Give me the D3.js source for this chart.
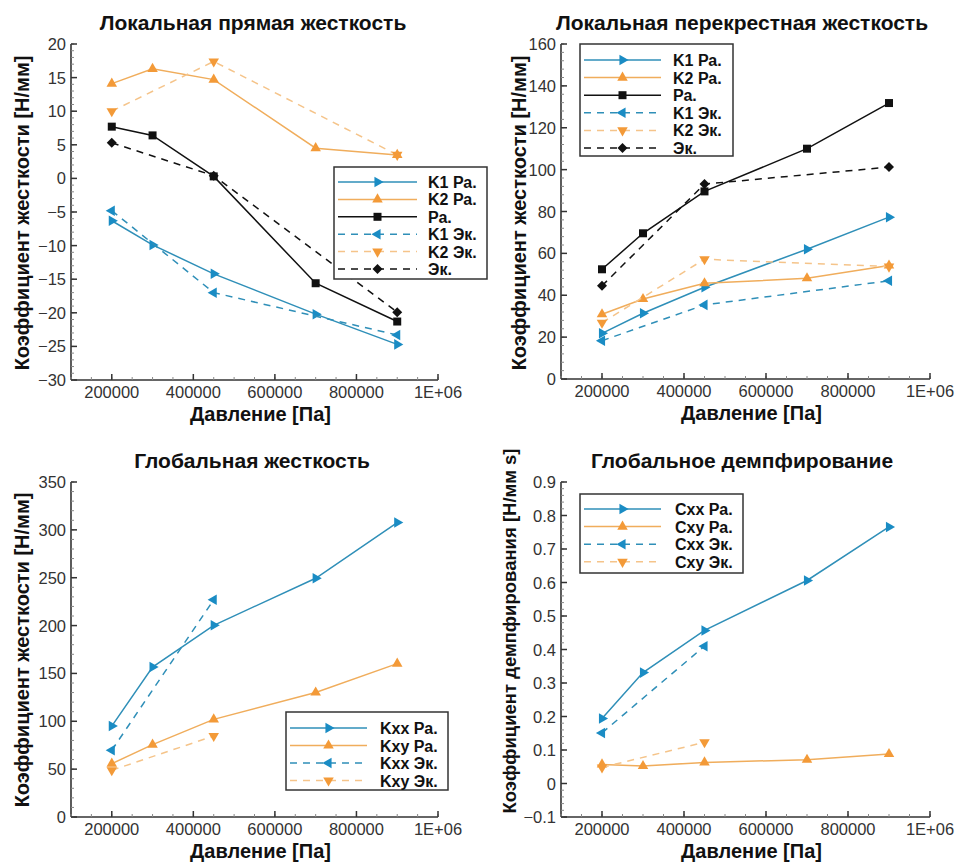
<!DOCTYPE html>
<html>
<head>
<meta charset="utf-8">
<script src="https://cdn.jsdelivr.net/npm/d3@7"></script>
<style>
  body { margin: 0; background: #fff; }
  svg { display: block; font-family: "Liberation Sans", Arial, Helvetica, sans-serif; }
  .tick-label { fill: #333; font-size: 16.5px; }
  .title { font-weight: bold; font-size: 21px; fill: #111; }
  .axis-title { font-weight: bold; font-size: 20px; fill: #111; }
  .legend-text { font-weight: bold; font-size: 16px; fill: #111; }
</style>
</head>
<body>
<div id="chart"></div>
<script>
// pressures (Pa)
var pressureRa = [200000, 300000, 450000, 700000, 900000];
var pressureEk3 = [200000, 450000, 900000];
var pressureEk2 = [200000, 450000];
var xTicks = [200000, 400000, 600000, 800000, 1000000];
var xTickLabels = ["200000", "400000", "600000", "800000", "1E+06"];

// local direct stiffness [N/mm]
var directK1Ra = [-6.3, -9.9, -14.2, -20.2, -24.7];
var directK2Ra = [14.1, 16.3, 14.7, 4.5, 3.5];
var directRa   = [7.7, 6.4, 0.3, -15.6, -21.3];
var directK1Ek = [-4.8, -17.0, -23.3];
var directK2Ek = [10.0, 17.4, 3.5];
var directEk   = [5.3, 0.4, -19.9];

// local cross stiffness [N/mm]
var crossK1Ra = [21.8, 31.4, 43.8, 62.0, 77.3];
var crossK2Ra = [30.9, 38.2, 45.7, 48.1, 54.2];
var crossRa   = [52.4, 69.6, 89.6, 110.0, 131.8];
var crossK1Ek = [18.3, 35.4, 46.9];
var crossK2Ek = [26.9, 57.2, 53.7];
var crossEk   = [44.5, 93.1, 101.2];

// global stiffness [N/mm]
var globKxxRa = [95, 156.7, 200.3, 249.4, 307.6];
var globKxyRa = [55.7, 75.6, 102, 130, 160.2];
var globKxxEk = [69.7, 227];
var globKxyEk = [48.8, 84.6];

// global damping [N/mm s]
var dampCxxRa = [0.194, 0.331, 0.457, 0.606, 0.766];
var dampCxyRa = [0.057, 0.052, 0.063, 0.071, 0.088];
var dampCxxEk = [0.151, 0.41];
var dampCxyEk = [0.048, 0.123];

var blue = "#2f8fb8", blueMark = "#1a8cc4";
var orange = "#f0ad5c", orangeMark = "#f39a38", orangeDash = "#f5c48a";
var black = "#111";

var styles = {
  k1ra: {line: blue, mark: blueMark, dash: null, sym: "tri", rot: 90},
  k2ra: {line: orange, mark: orangeMark, dash: null, sym: "tri", rot: 0},
  ra:   {line: black, mark: black, dash: null, sym: "sq", rot: 0},
  k1ek: {line: blue, mark: blueMark, dash: "7,6", sym: "tri", rot: -90},
  k2ek: {line: orangeDash, mark: orangeMark, dash: "7,6", sym: "tri", rot: 180},
  ek:   {line: black, mark: black, dash: "7,6", sym: "dia", rot: 0}
};

function ser(name, xs, ys, st) { return {name: name, xs: xs, ys: ys, st: styles[st]}; }

var panels = [
  {title: "Локальная прямая жесткость", ylab: "Коэффициент жесткости [Н/мм]",
   box: {l: 71, t: 44, r: 438, b: 380}, yDom: [-30, 20], yStep: 5, fmt: d3.format("d"),
   titleX: 253, titleY: 30, ylabX: 22, ylabY: 213, ylabSize: 20,
   legend: {x: 334, y: 167, w: 153, h: 112, lx1: 338, lx2: 417, tx: 428, row0: 182, dy: 17.4},
   series: [ser("K1 Ра.", pressureRa, directK1Ra, "k1ra"), ser("K2 Ра.", pressureRa, directK2Ra, "k2ra"),
            ser("Ра.", pressureRa, directRa, "ra"), ser("K1 Эк.", pressureEk3, directK1Ek, "k1ek"),
            ser("K2 Эк.", pressureEk3, directK2Ek, "k2ek"), ser("Эк.", pressureEk3, directEk, "ek")]},
  {title: "Локальная перекрестная жесткость", ylab: "Коэффициент жесткости [Н/мм]",
   box: {l: 561, t: 44, r: 930, b: 379}, yDom: [0, 160], yStep: 20, fmt: d3.format("d"),
   titleX: 742, titleY: 30, ylabX: 519, ylabY: 213, ylabSize: 20,
   legend: {x: 580, y: 44, w: 153, h: 112, lx1: 584, lx2: 661, tx: 673, row0: 60, dy: 17.6},
   series: [ser("K1 Ра.", pressureRa, crossK1Ra, "k1ra"), ser("K2 Ра.", pressureRa, crossK2Ra, "k2ra"),
            ser("Ра.", pressureRa, crossRa, "ra"), ser("K1 Эк.", pressureEk3, crossK1Ek, "k1ek"),
            ser("K2 Эк.", pressureEk3, crossK2Ek, "k2ek"), ser("Эк.", pressureEk3, crossEk, "ek")]},
  {title: "Глобальная жесткость", ylab: "Коэффициент жесткости [Н/мм]",
   box: {l: 71, t: 482, r: 438, b: 817}, yDom: [0, 350], yStep: 50, fmt: d3.format("d"),
   titleX: 252, titleY: 468, ylabX: 22, ylabY: 650, ylabSize: 20,
   legend: {x: 286, y: 712, w: 162, h: 78, lx1: 290, lx2: 367, tx: 380, row0: 728, dy: 17.5},
   series: [ser("Kxx Ра.", pressureRa, globKxxRa, "k1ra"), ser("Kxy Ра.", pressureRa, globKxyRa, "k2ra"),
            ser("Kxx Эк.", pressureEk2, globKxxEk, "k1ek"), ser("Kxy Эк.", pressureEk2, globKxyEk, "k2ek")]},
  {title: "Глобальное демпфирование", ylab: "Коэффициент демпфирования [Н/мм s]",
   box: {l: 561, t: 482, r: 930, b: 817}, yDom: [-0.1, 0.9], yStep: 0.1, fmt: function(d) { return d3.format(".1f")(d).replace(/^(-?)0\.0$/, "0").replace("-0.0", "0"); },
   titleX: 742, titleY: 468, ylabX: 510, ylabY: 631, ylabSize: 18.5,
   legend: {x: 580, y: 494, w: 163, h: 79, lx1: 584, lx2: 661, tx: 675, row0: 509, dy: 17.6},
   series: [ser("Cxx Ра.", pressureRa, dampCxxRa, "k1ra"), ser("Cxy Ра.", pressureRa, dampCxyRa, "k2ra"),
            ser("Cxx Эк.", pressureEk2, dampCxxEk, "k1ek"), ser("Cxy Эк.", pressureEk2, dampCxyEk, "k2ek")]}
];

var svg = d3.select("#chart").append("svg").attr("width", 955).attr("height", 863);

function marker(g, st, x, y) {
  var path;
  if (st.sym === "tri") path = d3.symbol().type(d3.symbolTriangle).size(48)();
  else if (st.sym === "sq") path = d3.symbol().type(d3.symbolSquare).size(64)();
  else path = d3.symbol().type(d3.symbolSquare).size(50)();
  var rot = st.sym === "dia" ? 45 : st.rot;
  g.append("path").attr("d", path)
    .attr("transform", "translate(" + x + "," + y + ") rotate(" + rot + ")")
    .attr("fill", st.mark);
}

panels.forEach(function(p) {
  var g = svg.append("g");
  var x = d3.scaleLinear().domain([100000, 1000000]).range([p.box.l, p.box.r]);
  var y = d3.scaleLinear().domain(p.yDom).range([p.box.b, p.box.t]);
  var nMaj = Math.round((p.yDom[1] - p.yDom[0]) / p.yStep);
  var yTicks = d3.range(nMaj + 1).map(function(i) { return p.yDom[0] + i * p.yStep; });
  var yMinor = d3.range(nMaj * 5 + 1).map(function(i) { return p.yDom[0] + i * p.yStep / 5; });
  var xMinor = d3.range(100000, 1000001, 50000);

  // axes lines
  g.append("line").attr("x1", p.box.l).attr("x2", p.box.l).attr("y1", p.box.t).attr("y2", p.box.b)
    .attr("stroke", "#333").attr("stroke-width", 1.6);
  g.append("line").attr("x1", p.box.l).attr("x2", p.box.r).attr("y1", p.box.b).attr("y2", p.box.b)
    .attr("stroke", "#333").attr("stroke-width", 1.6);

  // minor ticks
  g.selectAll(".ymin").data(yMinor).enter().append("line")
    .attr("x1", p.box.l).attr("x2", p.box.l + 3)
    .attr("y1", function(d) { return y(d); }).attr("y2", function(d) { return y(d); })
    .attr("stroke", "#888").attr("stroke-width", 1);
  g.selectAll(".xmin").data(xMinor).enter().append("line")
    .attr("y1", p.box.b).attr("y2", p.box.b - 3)
    .attr("x1", function(d) { return x(d); }).attr("x2", function(d) { return x(d); })
    .attr("stroke", "#888").attr("stroke-width", 1);

  // major ticks
  g.selectAll(".ymaj").data(yTicks).enter().append("line")
    .attr("x1", p.box.l).attr("x2", p.box.l + 6)
    .attr("y1", function(d) { return y(d); }).attr("y2", function(d) { return y(d); })
    .attr("stroke", "#333").attr("stroke-width", 1.5);
  g.selectAll(".xmaj").data(xTicks).enter().append("line")
    .attr("y1", p.box.b).attr("y2", p.box.b - 6)
    .attr("x1", function(d) { return x(d); }).attr("x2", function(d) { return x(d); })
    .attr("stroke", "#333").attr("stroke-width", 1.5);

  g.selectAll(".ylab").data(yTicks).enter().append("text")
    .attr("class", "tick-label").attr("text-anchor", "end")
    .attr("x", p.box.l - 5).attr("y", function(d) { return y(d) + 6; })
    .text(function(d) { return p.fmt(d); });
  g.selectAll(".xlab").data(xTicks).enter().append("text")
    .attr("class", "tick-label").attr("text-anchor", "middle")
    .attr("x", function(d) { return x(d); }).attr("y", p.box.b + 18)
    .text(function(d, i) { return xTickLabels[i]; });

  g.append("text").attr("class", "title").attr("text-anchor", "middle")
    .attr("x", p.titleX).attr("y", p.titleY).text(p.title);
  g.append("text").attr("class", "axis-title").attr("text-anchor", "middle")
    .attr("x", (p.box.l + p.box.r) / 2 + 6).attr("y", p.box.b + 41).text("Давление [Па]");
  g.append("text").attr("class", "axis-title").attr("text-anchor", "middle")
    .style("font-size", p.ylabSize + "px")
    .attr("transform", "translate(" + p.ylabX + "," + p.ylabY + ") rotate(-90)")
    .attr("dy", "0.35em").text(p.ylab);

  // series
  p.series.forEach(function(s) {
    var pts = s.xs.map(function(v, i) { return [v, s.ys[i]]; });
    var line = d3.line().x(function(d) { return x(d[0]); }).y(function(d) { return y(d[1]); });
    g.append("path").datum(pts).attr("d", line).attr("fill", "none")
      .attr("stroke", s.st.line).attr("stroke-width", 1.5)
      .attr("stroke-dasharray", s.st.dash);
    pts.forEach(function(d) { marker(g, s.st, x(d[0]), y(d[1])); });
  });

  // legend
  var L = p.legend;
  var lg = svg.append("g");
  lg.append("rect").attr("x", L.x).attr("y", L.y).attr("width", L.w).attr("height", L.h)
    .attr("fill", "#fff").attr("stroke", "#333").attr("stroke-width", 1.5);
  p.series.forEach(function(s, i) {
    var ry = L.row0 + i * L.dy;
    lg.append("line").attr("x1", L.lx1).attr("x2", L.lx2).attr("y1", ry).attr("y2", ry)
      .attr("stroke", s.st.line).attr("stroke-width", 1.5).attr("stroke-dasharray", s.st.dash);
    marker(lg, s.st, (L.lx1 + L.lx2) / 2, ry);
    lg.append("text").attr("class", "legend-text").attr("x", L.tx).attr("y", ry + 6).text(s.name);
  });
});
</script>
</body>
</html>
